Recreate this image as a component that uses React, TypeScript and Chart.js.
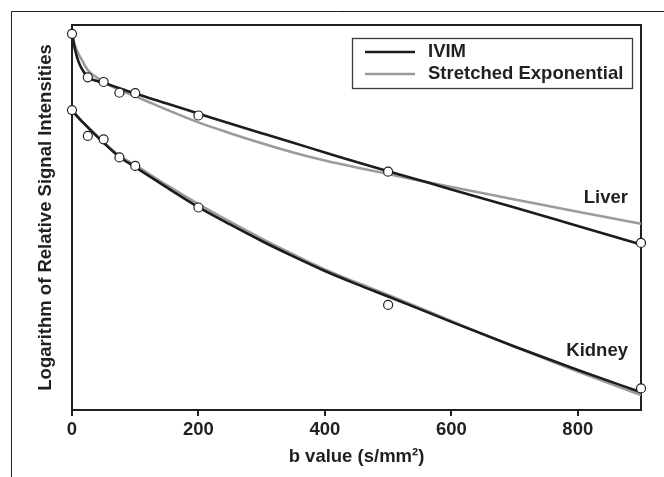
import React, { useEffect, useRef } from "react";
import { Chart, registerables } from "chart.js";

Chart.register(...registerables);

// ---- data (arbitrary log-signal units) ----
const bCurve = [0, 5, 10, 15, 20, 25, 50, 75, 100, 150, 200, 250, 300, 350, 400, 450, 500, 600, 700, 800, 900];
const liverIVIM = [97.7, 93.5, 90.6, 88.8, 87.5, 86.5, 85.0, 83.6, 82.2, 79.6, 77.0, 74.4, 71.9, 69.4, 66.9, 64.4, 62.0, 57.3, 52.6, 47.8, 43.0];
const liverStretched = [97.7, 94.5, 92.6, 91.1, 89.6, 88.3, 85.3, 83.1, 81.5, 78.0, 74.7, 71.9, 69.3, 66.9, 64.8, 63.0, 61.3, 57.9, 54.7, 51.5, 48.4];
const kidneyIVIM = [77.9, 76.9, 76.0, 75.1, 74.3, 73.4, 69.4, 65.7, 63.1, 57.8, 52.7, 48.2, 43.9, 39.9, 36.1, 32.7, 29.5, 22.9, 16.5, 10.4, 4.6];
const kidneyStretched = [77.9, 76.8, 75.9, 75.0, 74.2, 73.5, 69.6, 66.1, 63.6, 58.4, 53.5, 48.9, 44.5, 40.4, 36.5, 33.1, 29.9, 23.1, 16.4, 10.0, 3.9];

const bMeasured = [0, 25, 50, 75, 100, 200, 500, 900];
const liverMeasured = [97.7, 86.4, 85.2, 82.4, 82.3, 76.5, 61.9, 43.4];
const kidneyMeasured = [77.9, 71.2, 70.3, 65.6, 63.4, 52.6, 27.3, 5.6];

const xTickValues = [0, 200, 400, 600, 800];
const legendLabels = ["IVIM", "Stretched Exponential"];
const organNames = ["Liver", "Kidney"];
const organAnchorValues = [55.1, 15.4];

const xTitle = "b value (s/mm\u00B2)";
const yTitle = "Logarithm of Relative Signal Intensities";

// ---- styles ----
const DARK = "#231f20";
const BLACK = "#1c1c1c";
const GRAY = "#9b9b9b";
const FONT = '"Liberation Sans", Arial, Helvetica, sans-serif';
const FSIZE = 18.5;

const toXY = (xs: number[], ys: number[]) => xs.map((x, i) => ({ x, y: ys[i] }));

const decor = {
  id: "decor",
  beforeDraw(chart: any) {
    const ctx = chart.ctx;
    ctx.save();
    ctx.strokeStyle = DARK;
    ctx.lineWidth = 1;
    ctx.beginPath();
    ctx.moveTo(11.5, chart.height);
    ctx.lineTo(11.5, 11.5);
    ctx.lineTo(chart.width, 11.5);
    ctx.stroke();
    ctx.restore();
  },
  beforeDatasetsDraw(chart: any) {
    const { ctx, chartArea: a } = chart;
    ctx.save();
    ctx.strokeStyle = DARK;
    ctx.lineWidth = 2;
    ctx.strokeRect(a.left, a.top, a.right - a.left, a.bottom - a.top);
    ctx.restore();
  },
  afterDatasetsDraw(chart: any) {
    const { ctx, chartArea: a, scales } = chart;
    ctx.save();
    // legend
    const bx = a.right - 289;
    const by = a.top + 13;
    ctx.strokeStyle = "#3a3a3a";
    ctx.lineWidth = 1.3;
    ctx.strokeRect(bx + 0.5, by + 0.5, 280, 50);
    const colors = [BLACK, GRAY];
    ctx.font = `bold ${FSIZE}px ${FONT}`;
    ctx.textBaseline = "middle";
    ctx.textAlign = "left";
    legendLabels.forEach((lab, i) => {
      const ly = by + 14 + i * 22;
      ctx.strokeStyle = colors[i];
      ctx.lineWidth = 2.6;
      ctx.beginPath();
      ctx.moveTo(bx + 13, ly);
      ctx.lineTo(bx + 63, ly);
      ctx.stroke();
      ctx.fillStyle = DARK;
      ctx.fillText(lab, bx + 76, ly);
    });
    // organ labels
    ctx.textAlign = "right";
    organNames.forEach((n, i) => {
      ctx.fillText(n, a.right - 13, scales.y.getPixelForValue(organAnchorValues[i]));
    });
    ctx.restore();
  },
};

export default function App() {
  const ref = useRef<HTMLCanvasElement | null>(null);

  useEffect(() => {
    if (!ref.current) return;
    const curve = (label: string, ys: number[], color: string) => ({
      label,
      data: toXY(bCurve, ys),
      borderColor: color,
      backgroundColor: color,
      borderWidth: 2.6,
      pointRadius: 0,
      cubicInterpolationMode: "monotone" as const,
      fill: false,
      clip: false as any,
    });
    const pts = (label: string, ys: number[]) => ({
      label,
      data: toXY(bMeasured, ys),
      showLine: false,
      pointRadius: 4.5,
      pointBorderWidth: 1.2,
      pointBackgroundColor: "#ffffff",
      pointBorderColor: DARK,
      borderColor: DARK,
      clip: false as any,
    });
    const chart = new Chart(ref.current, {
      type: "line",
      data: {
        datasets: [
          pts("Liver measured", liverMeasured),
          pts("Kidney measured", kidneyMeasured),
          curve("Liver IVIM", liverIVIM, BLACK),
          curve("Kidney IVIM", kidneyIVIM, BLACK),
          curve("Liver Stretched Exponential", liverStretched, GRAY),
          curve("Kidney Stretched Exponential", kidneyStretched, GRAY),
        ],
      },
      options: {
        responsive: false,
        animation: false,
        events: [],
        layout: { padding: { left: 0, top: 25, right: 23, bottom: 0 } },
        plugins: { legend: { display: false }, tooltip: { enabled: false } },
        scales: {
          x: {
            type: "linear",
            min: 0,
            max: 900,
            afterFit: (s: any) => {
              s.height = 67;
            },
            afterBuildTicks: (s: any) => {
              s.ticks = xTickValues.map((v) => ({ value: v }));
            },
            ticks: {
              padding: 3,
              color: DARK,
              font: { family: FONT, size: FSIZE, weight: "bold" },
              callback: (v: any) => String(v),
            },
            grid: {
              display: true,
              drawOnChartArea: false,
              drawTicks: true,
              tickLength: 6,
              color: DARK,
              lineWidth: 2,
            },
            border: { display: false },
            title: {
              display: true,
              text: xTitle,
              color: DARK,
              font: { family: FONT, size: FSIZE, weight: "bold" },
              padding: { top: 0, bottom: 9 },
            },
          },
          y: {
            type: "linear",
            min: 0,
            max: 100,
            afterFit: (s: any) => {
              s.width = 72;
            },
            ticks: { display: false },
            grid: { display: false },
            border: { display: false },
            title: {
              display: true,
              text: yTitle,
              color: DARK,
              font: { family: FONT, size: FSIZE, weight: "bold" },
              padding: { top: 35, bottom: 0 },
            },
          },
        },
      },
      plugins: [decor],
    } as any);
    return () => chart.destroy();
  }, []);

  return (
    <canvas
      ref={ref}
      width={664}
      height={477}
      style={{ position: "fixed", left: 0, top: 0, width: 664, height: 477 }}
    />
  );
}
